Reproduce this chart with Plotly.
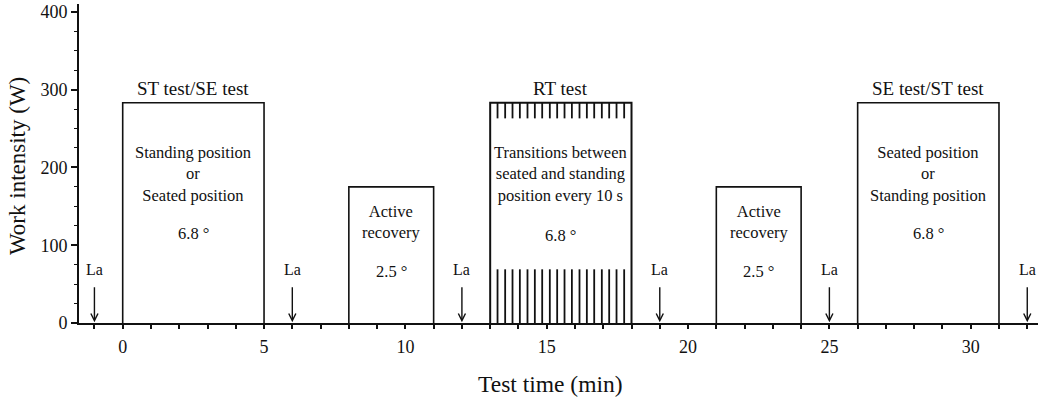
import plotly.graph_objects as go

# ---- data ----
stage_start = [0, 8, 13, 21, 26]          # min
stage_end = [5, 11, 18, 24, 31]           # min
stage_power = [283, 175, 283, 175, 283]   # W
stage_titles = ["ST test/SE test", "", "RT test", "", "SE test/ST test"]
stage_texts = [
    "Standing position<br>or<br>Seated position",
    "Active<br>recovery",
    "Transitions between<br>seated and standing<br>position every 10 s",
    "Active<br>recovery",
    "Seated position<br>or<br>Standing position",
]
stage_angles = ["6.8 °", "2.5 °", "6.8 °", "2.5 °", "6.8 °"]

# lactate sampling times (min)
la_times = [-1, 6, 12, 19, 25, 32]

# RT test position transitions (min) as drawn
transition_times = [13.26, 13.53, 13.79, 14.05, 14.32, 14.58, 14.84, 15.11, 15.37,
                    15.63, 15.89, 16.16, 16.42, 16.68, 16.95, 17.21, 17.47, 17.74]
hatch_low = [0, 69]      # W, lower tick band
hatch_high = [263, 283]  # W, upper tick band

x_tickvals = [0, 5, 10, 15, 20, 25, 30]
y_tickvals = [0, 100, 200, 300, 400]

FONT = "Liberation Serif, Times New Roman, serif"
INK = "#111111"

fig = go.Figure()

# stage rectangles
for i, (s, e, p) in enumerate(zip(stage_start, stage_end, stage_power)):
    fig.add_trace(go.Scatter(
        x=[s, s, e, e], y=[0, p, p, 0], mode="lines",
        line=dict(color=INK, width=2 if i == 2 else 1.6),
        hoverinfo="skip", showlegend=False))

# RT transition hatch lines
hx, hy = [], []
for t in transition_times:
    hx += [t, t, None, t, t, None]
    hy += [hatch_low[0], hatch_low[1], None, hatch_high[0], hatch_high[1], None]
fig.add_trace(go.Scatter(x=hx, y=hy, mode="lines",
                         line=dict(color=INK, width=1.8),
                         hoverinfo="skip", showlegend=False))

annotations = []
title_y = [301, 0, 301, 0, 301]
text_y = [191, 130, 191, 130, 191]
angle_y = [115, 66, 113, 66, 115]
for i, (s, e) in enumerate(zip(stage_start, stage_end)):
    c = (s + e) / 2
    if stage_titles[i]:
        annotations.append(dict(x=c, y=title_y[i], text=stage_titles[i], showarrow=False,
                                font=dict(size=19, family=FONT, color=INK)))
    annotations.append(dict(x=c, y=text_y[i], text=stage_texts[i], showarrow=False,
                            font=dict(size=16.5, family=FONT, color=INK)))
    annotations.append(dict(x=c, y=angle_y[i], text=stage_angles[i], showarrow=False,
                            font=dict(size=16.5, family=FONT, color=INK)))

for t in la_times:
    annotations.append(dict(x=t, y=69, text="La", showarrow=False,
                            font=dict(size=16, family=FONT, color=INK)))
    annotations.append(dict(x=t, y=1, ax=t, ay=48, axref="x", ayref="y",
                            xref="x", yref="y", text="", showarrow=True,
                            arrowhead=5, arrowsize=1, arrowwidth=1.4, arrowcolor=INK))

# axis titles
annotations.append(dict(xref="paper", yref="paper", x=(550 - 79) / (1038 - 79),
                        y=-(384 - 323) / 319, xanchor="center", yanchor="middle",
                        text="Test time (min)", showarrow=False,
                        font=dict(size=23.5, family=FONT, color=INK)))
annotations.append(dict(xref="paper", yref="paper", x=-(79 - 17) / (1038 - 79),
                        y=(323 - 166) / 319, xanchor="center", yanchor="middle", textangle=-90,
                        text="Work intensity (W)", showarrow=False,
                        font=dict(size=23, family=FONT, color=INK)))

fig.update_layout(
    width=1040, height=401, autosize=False,
    margin=dict(l=79, r=2, t=4, b=78),
    paper_bgcolor="white", plot_bgcolor="white",
    font=dict(family=FONT, color=INK),
    annotations=annotations,
    xaxis=dict(range=[-1.546, 32.38], tickvals=x_tickvals, ticks="outside",
               ticklen=4, tickwidth=1.5, tickcolor=INK,
               minor=dict(dtick=1, tick0=0, ticks="outside", ticklen=4, tickwidth=1.5, tickcolor=INK),
               showline=True, linewidth=2, linecolor=INK, showgrid=False, zeroline=False,
               tickfont=dict(size=18, family=FONT, color=INK), ticklabelstandoff=2),
    yaxis=dict(range=[0, 410], tickvals=y_tickvals, ticks="outside",
               ticklen=6, tickwidth=1.5, tickcolor=INK,
               minor=dict(dtick=25, tick0=0, ticks="outside", ticklen=3, tickwidth=1.2, tickcolor=INK),
               showline=True, linewidth=2, linecolor=INK, showgrid=False, zeroline=False,
               tickfont=dict(size=18, family=FONT, color=INK), ticklabelstandoff=0),
)

fig.write_html("out.html", config={"displayModeBar": False},
               post_script="document.body.style.margin='0';")
